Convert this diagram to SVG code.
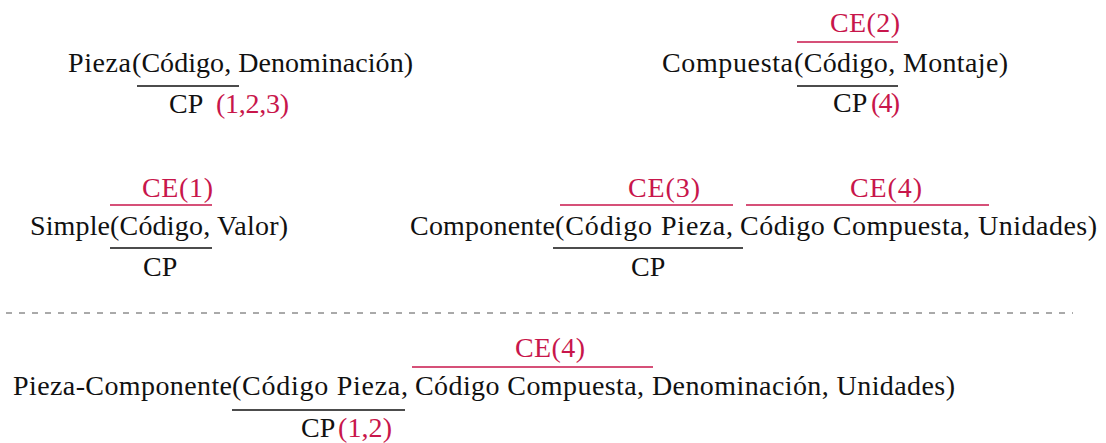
<svg xmlns="http://www.w3.org/2000/svg" width="1106" height="443" viewBox="0 0 1106 443" font-family="'Liberation Serif', 'DejaVu Serif', serif">
<style>
text{font-family:"Liberation Serif","DejaVu Serif",serif;font-size:28px;fill:#111}
.r{fill:#C8164B}
.ul{stroke:#111;stroke-width:1.6}
.ol{stroke:#C8164B;stroke-width:1.6}
.sep{stroke:#555;stroke-width:1;stroke-dasharray:6 7}
</style>
<rect width="1106" height="443" fill="#fff"/>
<g id="pieza">
<text x="68" y="72" textLength="63">Pieza</text>
<text x="132" y="72" textLength="281">(Código, Denominación)</text>
<line class="ul" x1="137" y1="86" x2="239" y2="86"/>
<text x="169" y="113">CP</text>
<text class="r" x="216" y="113" textLength="73">(1,2,3)</text>
</g>
<g id="compuesta">
<text class="r" x="830" y="32" textLength="70">CE(2)</text>
<line class="ol" x1="797" y1="42" x2="898" y2="42"/>
<text x="662" y="72" textLength="131">Compuesta</text>
<text x="794" y="72" textLength="214">(Código, Montaje)</text>
<line class="ul" x1="797" y1="86" x2="898" y2="86"/>
<text x="833" y="112">CP</text>
<text class="r" x="871" y="112" textLength="29">(4)</text>
</g>
<g id="simple">
<text class="r" x="142" y="197" textLength="71">CE(1)</text>
<line class="ol" x1="110" y1="205" x2="212" y2="205"/>
<text x="30" y="235" textLength="80">Simple</text>
<text x="110" y="235" textLength="178">(Código, Valor)</text>
<line class="ul" x1="110" y1="248" x2="212" y2="248"/>
<text x="143" y="276">CP</text>
</g>
<g id="componente">
<text class="r" x="628" y="197" textLength="72">CE(3)</text>
<line class="ol" x1="560" y1="205" x2="733" y2="205"/>
<text class="r" x="850" y="197" textLength="72">CE(4)</text>
<line class="ol" x1="746" y1="205" x2="989" y2="205"/>
<text x="410" y="235" textLength="145">Componente</text>
<text x="555" y="235" textLength="178">(Código Pieza,</text>
<text x="740" y="235" textLength="357">Código Compuesta, Unidades)</text>
<line class="ul" x1="553" y1="248" x2="743" y2="248"/>
<text x="631" y="276">CP</text>
</g>
<g id="separator">
<line class="sep" x1="6" y1="313" x2="1073" y2="313"/>
</g>
<g id="pieza-componente">
<text class="r" x="515" y="357" textLength="70">CE(4)</text>
<line class="ol" x1="412" y1="367" x2="653" y2="367"/>
<text x="13" y="395" textLength="219">Pieza-Componente</text>
<text x="232" y="395" textLength="176">(Código Pieza,</text>
<text x="415" y="395" textLength="540">Código Compuesta, Denominación, Unidades)</text>
<line class="ul" x1="232" y1="410" x2="405" y2="410"/>
<text x="301" y="437">CP</text>
<text class="r" x="338" y="437" textLength="54">(1,2)</text>
</g>
<g id="connectors"/>
</svg>
